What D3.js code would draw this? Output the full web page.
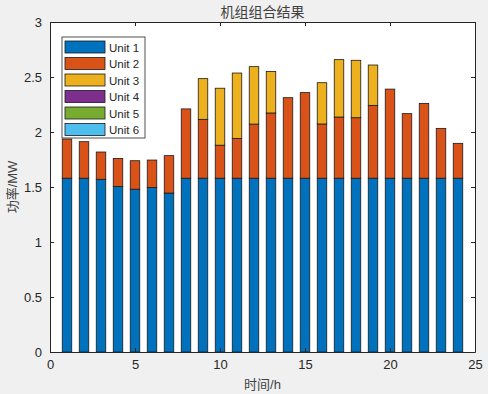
<!DOCTYPE html>
<meta charset="utf-8">
<style>
body { margin: 0; background: #f0f0f0; }
text { font-family: "Liberation Sans", Arial, "Noto Sans CJK SC", sans-serif; fill: #262626; }
</style>
<body>
<script src="https://d3js.org/d3.v7.min.js"></script>
<script>

// data
var hours = d3.range(1, 25);
var units = ["Unit 1", "Unit 2", "Unit 3", "Unit 4", "Unit 5", "Unit 6"];
var unit1 = [1.58, 1.58, 1.57, 1.505, 1.48, 1.495, 1.445, 1.58, 1.58, 1.58, 1.58, 1.58,
             1.58, 1.58, 1.58, 1.58, 1.58, 1.58, 1.58, 1.58, 1.58, 1.58, 1.58, 1.58];
var unit2 = [0.356, 0.332, 0.248, 0.255, 0.259, 0.25, 0.34, 0.63, 0.535, 0.30, 0.362, 0.492,
             0.593, 0.732, 0.778, 0.493, 0.556, 0.55, 0.662, 0.81, 0.587, 0.68, 0.453, 0.317];
var unit3 = [0, 0, 0, 0, 0, 0, 0, 0, 0.37, 0.518, 0.594, 0.522,
             0.377, 0, 0, 0.375, 0.522, 0.522, 0.367, 0, 0, 0, 0, 0];
var unit4 = hours.map(function() { return 0; });
var unit5 = hours.map(function() { return 0; });
var unit6 = hours.map(function() { return 0; });
var colors = ["#0072BD", "#D95319", "#EDB120", "#7E2F8E", "#77AC30", "#4DBEEE"];
var xTicks = [0, 5, 10, 15, 20, 25];
var yTicks = [0, 0.5, 1, 1.5, 2, 2.5, 3];

var series = [unit1, unit2, unit3, unit4, unit5, unit6];
var table = hours.map(function(h, i) {
  var row = {hour: h};
  units.forEach(function(u, k) { row[u] = series[k][i]; });
  return row;
});

var W = 488, H = 394;
var margin = {top: 22, right: 13, bottom: 42, left: 50},
    width = W - margin.left - margin.right,
    height = H - margin.top - margin.bottom;

var svg = d3.select("body").append("svg")
    .attr("width", W)
    .attr("height", H);

var g = svg.append("g")
    .attr("transform", "translate(" + margin.left + "," + margin.top + ")");

var x = d3.scaleLinear().domain([0, 25]).range([0, width]);
var y = d3.scaleLinear().domain([0, 3]).range([height, 0]);

g.append("rect")
    .attr("width", width).attr("height", height)
    .attr("fill", "#fff");

var stack = d3.stack().keys(units)(table);
var bw = x(0.56) - x(0);

g.selectAll(".layer")
  .data(stack)
  .enter().append("g")
    .attr("class", "layer")
    .attr("fill", function(d, i) { return colors[i]; })
  .selectAll("rect")
  .data(function(d) { return d.filter(function(p) { return p[1] - p[0] > 0; }); })
  .enter().append("rect")
    .attr("x", function(d) { return x(d.data.hour) - bw / 2; })
    .attr("y", function(d) { return y(d[1]); })
    .attr("width", bw)
    .attr("height", function(d) { return y(d[0]) - y(d[1]); })
    .attr("stroke", "#1a1a1a")
    .attr("stroke-width", 0.8);

// axes, MATLAB style: ticks inside, box on
var xAxis = d3.axisBottom(x).tickValues(xTicks).tickSizeInner(-4).tickSizeOuter(0).tickPadding(8);
var yAxis = d3.axisLeft(y).tickValues(yTicks).tickSizeInner(-4).tickSizeOuter(0).tickPadding(8)
    .tickFormat(function(d) { return d; });

var gX = g.append("g").attr("transform", "translate(0," + height + ")").call(xAxis);
var gY = g.append("g").call(yAxis);
var gX2 = g.append("g").call(d3.axisTop(x).tickValues(xTicks).tickSizeInner(-4).tickSizeOuter(0).tickFormat(""));
var gY2 = g.append("g").attr("transform", "translate(" + width + ",0)")
    .call(d3.axisRight(y).tickValues(yTicks).tickSizeInner(-4).tickSizeOuter(0).tickFormat(""));

[gX, gY, gX2, gY2].forEach(function(a) {
  a.selectAll("path").attr("stroke", "#262626");
  a.selectAll("line").attr("stroke", "#262626");
  a.selectAll("text").style("font-size", "13px").attr("fill", "#262626");
});

// title and labels
svg.append("text")
    .attr("x", margin.left + width / 2).attr("y", 17)
    .attr("text-anchor", "middle")
    .style("font-size", "14px")
    .style("fill", "#404040")
    .text("机组组合结果");

svg.append("text")
    .attr("x", margin.left + width / 2).attr("y", 389)
    .attr("text-anchor", "middle")
    .style("font-size", "13px")
    .style("fill", "#404040")
    .text("时间/h");

svg.append("text")
    .attr("transform", "translate(17," + (margin.top + height / 2) + ") rotate(-90)")
    .attr("text-anchor", "middle")
    .style("font-size", "13px")
    .style("fill", "#404040")
    .text("功率/MW");

// legend
var lg = svg.append("g").attr("transform", "translate(62,37)");
lg.append("rect")
    .attr("width", 83).attr("height", 101)
    .attr("fill", "#fff")
    .attr("stroke", "#262626")
    .attr("stroke-width", 0.8);

var item = lg.selectAll(".item")
  .data(units)
  .enter().append("g")
    .attr("class", "item")
    .attr("transform", function(d, i) { return "translate(3," + (4 + i * 16.5) + ")"; });

item.append("rect")
    .attr("width", 40).attr("height", 12)
    .attr("fill", function(d, i) { return colors[i]; })
    .attr("stroke", "#1a1a1a")
    .attr("stroke-width", 0.8);

item.append("text")
    .attr("x", 44).attr("y", 10.5)
    .style("font-size", "11.5px")
    .text(function(d) { return d; });

</script>
</body>
